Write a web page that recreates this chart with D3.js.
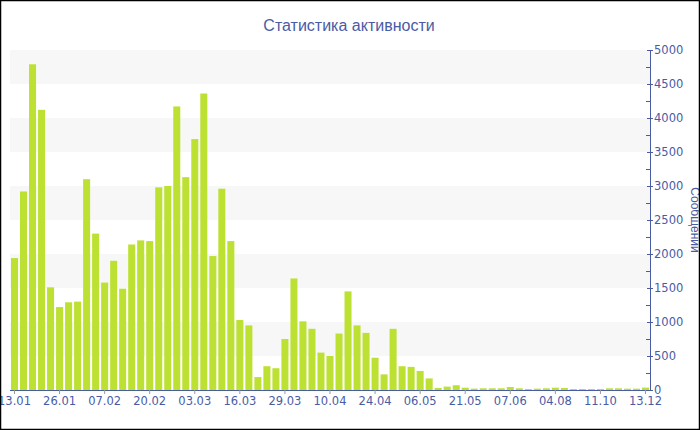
<!DOCTYPE html>
<html>
<head>
<meta charset="utf-8">
<script src="https://cdn.jsdelivr.net/npm/d3@7"></script>
<style>
  html, body { margin: 0; padding: 0; background: #fff; }
  svg { display: block; }
</style>
</head>
<body>
<svg id="chart" width="700" height="430"></svg>
<script>
// ---- data ----
const title = "Статистика активности";
const yAxisTitle = "Сообщений";
const tickLabels = ["13.01","26.01","07.02","20.02","03.03","16.03","29.03","10.04","24.04","06.05","21.05","07.06","04.08","11.10","13.12"];
const values = [
  1940, 2920, 4790, 4120, 1510, 1220, 1290, 1300, 3100, 2300,
  1580, 1900, 1490, 2140, 2200, 2190, 2980, 3000, 4170, 3130,
  3690, 4360, 1970, 2960, 2190, 1030, 950, 190, 350, 320,
  750, 1640, 1010, 900, 550, 500, 830, 1450, 950, 840,
  475, 230, 900, 350, 340, 280, 170, 30, 50, 70,
  34, 20, 25, 25, 25, 44, 25, 15, 20, 25,
  34, 30, 15, 15, 15, 15, 25, 25, 20, 20,
  35
];
const categories = values.map((_, i) => i);
const labelEvery = 5;

// ---- layout ----
const W = 700, H = 430;
const pL = 10, pR = 650, pT = 50, pB = 390;
const blue = "#4a5ba6";
const barColor = "#bde133";

const svg = d3.select("#chart");

const x = d3.scaleBand().domain(categories).range([pL, pR]).paddingInner(0.22).paddingOuter(0.11);
const y = d3.scaleLinear().domain([0, 5000]).range([pB, pT]);

// alternating bands
const bandStarts = d3.range(500, 5000, 1000);
svg.append("g").selectAll("rect").data(bandStarts).join("rect")
  .attr("x", pL).attr("width", pR - pL)
  .attr("y", d => y(d + 500)).attr("height", d => y(d) - y(d + 500))
  .attr("fill", "#f7f7f7");

// title
svg.append("text").attr("x", 349).attr("y", 31).attr("text-anchor", "middle")
  .attr("font-family", "Liberation Sans, Arial, sans-serif").attr("font-size", 16)
  .attr("fill", blue).text(title);

// bars
svg.append("g").selectAll("rect").data(values).join("rect")
  .attr("x", (d, i) => x(categories[i]))
  .attr("width", x.bandwidth())
  .attr("y", d => y(d))
  .attr("height", d => pB - y(d))
  .attr("fill", barColor);

// bottom axis
const xAxis = d3.axisBottom(x)
  .tickValues(categories.filter(i => i % labelEvery === 0))
  .tickFormat(i => tickLabels[i / labelEvery])
  .tickSize(4).tickSizeOuter(0);
const gx = svg.append("g").attr("transform", `translate(0,${pB})`).call(xAxis);
gx.select(".domain").attr("stroke", blue).attr("d", `M${pL},0.5H${pR}`);
gx.selectAll(".tick line").attr("stroke", "#999");
gx.selectAll(".tick text").attr("fill", blue)
  .attr("font-family", "DejaVu Sans, Verdana, sans-serif").attr("font-size", 11.5).attr("dy", "0.75em").attr("y", 6);

// right axis
const yAxis = d3.axisRight(y).tickValues(d3.range(0, 5001, 500)).tickFormat(d3.format("d")).tickSize(3).tickSizeOuter(0);
const gy = svg.append("g").attr("transform", `translate(${pR},0)`).call(yAxis);
gy.select(".domain").attr("stroke", blue);
gy.selectAll(".tick line").attr("stroke", blue).attr("x1", -3);
gy.selectAll(".tick text").attr("fill", blue).attr("x", 4)
  .attr("font-family", "DejaVu Sans, Verdana, sans-serif").attr("font-size", 11.5);
// minor ticks
svg.append("g").selectAll("line").data(d3.range(250, 5000, 500)).join("line")
  .attr("x1", pR - 4).attr("x2", pR)
  .attr("y1", d => Math.round(y(d)) + 0.5).attr("y2", d => Math.round(y(d)) + 0.5)
  .attr("stroke", blue);

// y axis title
svg.append("text").attr("transform", `translate(691,${(pT + pB) / 2}) rotate(90)`)
  .attr("text-anchor", "middle")
  .attr("font-family", "Liberation Sans, Arial, sans-serif").attr("font-size", 12)
  .attr("fill", blue).text(yAxisTitle);

// frame
svg.append("rect").attr("x", 0.5).attr("y", 0.5).attr("width", W - 1).attr("height", H - 1)
  .attr("fill", "none").attr("stroke", "#000").attr("stroke-width", 1.5);
</script>
</body>
</html>
